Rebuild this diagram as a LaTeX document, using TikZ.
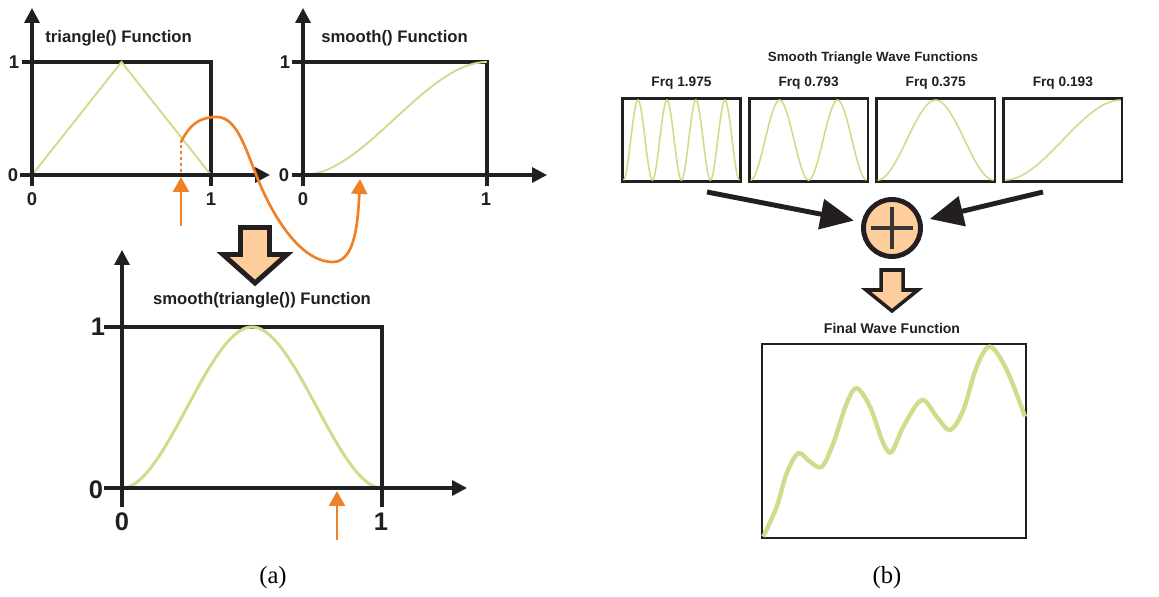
\documentclass[tikz,border=0pt]{standalone}
\usepackage{fontspec}
\setmainfont{Liberation Serif}
\setsansfont{Liberation Sans}
\usetikzlibrary{arrows.meta,positioning}

\definecolor{wavegreen}{RGB}{204,222,140}
\definecolor{peach}{RGB}{253,205,155}
\definecolor{orangeline}{RGB}{240,128,35}
\definecolor{inkblack}{RGB}{35,31,32}

\begin{document}
\begin{tikzpicture}[
  x=0.02cm, y=-0.02cm,
  declare function={tri(\t)=1-abs(1-2*frac(\t)); sstep(\t)=3*\t*\t-2*\t*\t*\t;},
  font=\sffamily\bfseries,
  plotframe/.style={draw=inkblack, line width=1.9pt},
  axisline/.style={draw=inkblack, line width=1.9pt, -{Triangle[length=8.5pt,width=8.5pt]}},
  wave/.style={draw=wavegreen, line width=1.1pt},
  ticklab/.style={text=inkblack, inner sep=0pt, font=\sffamily\bfseries\fontsize{10.5}{11}\selectfont},
  bigticklab/.style={text=inkblack, inner sep=0pt, font=\sffamily\bfseries\fontsize{14.5}{15}\selectfont},
  plottitle/.style={text=inkblack, inner sep=0pt, font=\sffamily\bfseries\fontsize{9.5}{11}\selectfont},
  pointer/.style={draw=orangeline, line width=1.5pt, -{Triangle[length=8.5pt,width=9pt]}},
  wavebox/.style={draw=inkblack, line width=1.5pt, minimum width=2.37cm, minimum height=1.67cm, inner sep=0pt},
  frqlabel/.style={text=inkblack, inner sep=0pt, font=\sffamily\bfseries\fontsize{7.8}{9}\selectfont},
  fatarrow/.style={draw=inkblack, line width=2.8pt, -{Triangle[length=19pt,width=17pt]}},
  blockarrow/.style={draw=inkblack, fill=peach, line width=2.8pt, line join=miter},
  sublabel/.style={text=black, inner sep=0pt, font=\rmfamily\fontsize{14}{16}\selectfont}
]
\useasboundingbox (0,0) rectangle (1159,597);

% ---- (a) triangle()
\draw[plotframe] (22,62) -| (211,186);
\draw[wave] (32,175) -- (121.5,62) -- (211,175);
\draw[axisline] (20,175) -- (270,175);
\draw[axisline] (32,186) -- (32,8);
\node[plottitle, anchor=west] (tri-title) at (45,38) {triangle() Function};
\node[ticklab] (tri-y1) at (14,62) {1};
\node[ticklab] (tri-y0) at (13,175) {0};
\node[ticklab] (tri-x0) at (32,199) {0};
\node[ticklab] (tri-x1) at (211,199) {1};

% ---- (a) smooth()
\draw[plotframe] (292,62) -| (487,186);
\draw[wave] plot[domain=0:1, samples=60, smooth] ({303+184*\x}, {175-113*sstep(\x)});
\draw[axisline] (292,175) -- (547,175);
\draw[axisline] (303,186) -- (303,8);
\node[plottitle, anchor=west] (smooth-title) at (321,38) {smooth() Function};
\node[ticklab] (smooth-y1) at (285,62) {1};
\node[ticklab] (smooth-y0) at (284,175) {0};
\node[ticklab] (smooth-x0) at (303,199) {0};
\node[ticklab] (smooth-x1) at (486,199) {1};

% ---- (a) smooth(triangle())
\draw[plotframe] (104,327) -| (382,507);
\draw[wave, line width=1.7pt] plot[domain=0:1, samples=101, smooth] ({122+260*\x}, {488-161*sstep(tri(\x))});
\draw[axisline] (104,488) -- (467,488);
\draw[axisline] (122,507) -- (122,250);
\node[plottitle] (comp-title) at (262,300) {smooth(triangle()) Function};
\node[bigticklab] (comp-y1) at (98,327) {1};
\node[bigticklab] (comp-y0) at (96,490) {0};
\node[bigticklab] (comp-x0) at (122,522) {0};
\node[bigticklab] (comp-x1) at (381,522) {1};

% orange lookup path
\coordinate (pick) at (181,226);
\coordinate (tri-hit) at (181,177);
\coordinate (dot-low) at (181,172);
\coordinate (dot-top) at (181,142);
\coordinate (smooth-in) at (360,179);
\coordinate (comp-pick) at (337,540);
\coordinate (comp-hit) at (337,491);
\draw[pointer] (pick) -- (tri-hit);
\draw[orangeline, line width=1.5pt, dash pattern=on 1.8pt off 1.6pt] (dot-low) -- (dot-top);
\draw[pointer] (dot-top) .. controls (190,124) and (200,117) .. (217,117)
  .. controls (237,117) and (246,150) .. (257,177)
  .. controls (272,215) and (300,262) .. (333,262)
  .. controls (355,262) and (358,222) .. (smooth-in);
\draw[pointer] (comp-pick) -- (comp-hit);

\draw[blockarrow] (240.5,227.5) -- (269.5,227.5) -- (269.5,254.5) -- (287,254.5)
  -- (255,283) -- (223,254.5) -- (240.5,254.5) -- cycle;

\node[sublabel] (cap-a) at (273,578) {(a)};

% ---- (b) sum of smooth triangle waves
\node[plottitle, font=\sffamily\bfseries\fontsize{7.6}{9}\selectfont] (waves-title) at (873,58) {Smooth Triangle Wave Functions};
\node[wavebox] (w1) at (681.5,140) {};
\node[wavebox, right=0.12cm of w1] (w2) {};
\node[wavebox, right=0.12cm of w2] (w3) {};
\node[wavebox, right=0.12cm of w3] (w4) {};
\node[frqlabel, above=4pt of w1] (f1) {Frq 1.975};
\node[frqlabel, above=4pt of w2] (f2) {Frq 0.793};
\node[frqlabel, above=4pt of w3] (f3) {Frq 0.375};
\node[frqlabel, above=4pt of w4] (f4) {Frq 0.193};
\foreach \b/\p in {w1/4, w2/2, w3/1, w4/0.5} {
  \begin{scope}[shift={(\b.south west)}]
    \draw[wave, line width=0.9pt] plot[domain=0:1, samples=161] ({2.5+116*\x}, {-3-80*sstep(tri(\p*\x))});
  \end{scope}
}

\node[circle, draw=inkblack, fill=peach, line width=2.8pt, minimum size=1.14cm, inner sep=0pt] (sum) at (892,228) {};
\draw[draw=inkblack!90, line width=2.3pt] ([xshift=-0.42cm]sum.center) -- ([xshift=0.42cm]sum.center);
\draw[draw=inkblack!90, line width=2.3pt] ([yshift=-0.42cm]sum.center) -- ([yshift=0.42cm]sum.center);

\coordinate (from-w1) at (707,192);
\coordinate (from-w4) at (1043,192);
\draw[fatarrow, shorten >=4.5pt] (from-w1) -- (sum);
\draw[fatarrow, shorten >=4.5pt] (from-w4) -- (sum);

\draw[blockarrow, line width=2pt] (881,270) -- (903,270) -- (903,290) -- (918,290)
  -- (892,311) -- (866,290) -- (881,290) -- cycle;

\node[plottitle, font=\sffamily\bfseries\fontsize{8}{9}\selectfont] (final-title) at (892,328) {Final Wave Function};
\node[draw=inkblack, line width=1.1pt, minimum width=5.28cm, minimum height=3.88cm, inner sep=0pt] (final) at (894,441) {};
\draw[wave, line width=2.5pt] plot[smooth, tension=0.55] coordinates {
  (763.3,536.7) (776.7,506.7) (786.7,473.3) (798.3,453.3) (810,461.7) (821.7,466.7)
  (833.3,443.3) (846.7,403.3) (856.7,388.3) (870,406.7) (883.3,443.3) (891.7,451.7)
  (903.3,426.7) (921.7,400) (936.7,416.7) (950,430) (963.3,410) (976.7,366.7)
  (990,346.7) (1006.7,370) (1025,416.7)};

\node[sublabel] (cap-b) at (887,578) {(b)};

\end{tikzpicture}
\end{document}
